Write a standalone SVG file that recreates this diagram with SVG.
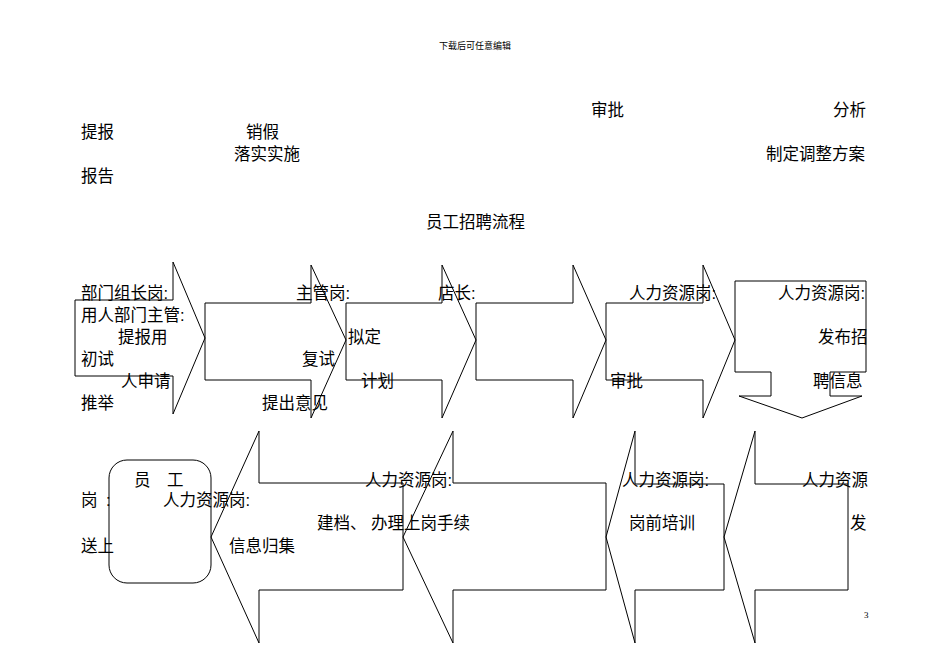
<svg xmlns="http://www.w3.org/2000/svg" width="950" height="672" viewBox="0 0 950 672">
<style>
.s{fill:none;stroke:#000;stroke-width:1}
text{font-family:"Liberation Sans","Noto Sans CJK SC",sans-serif;font-size:16.5px;fill:#000}
.sm{font-family:"Liberation Serif","Noto Sans CJK SC",serif;font-size:9px}
</style>
<rect width="950" height="672" fill="#fff"/>
<g id="connectors">
<polygon id="a1" class="s" points="75,300 173,300 173,262 205,338 173,414 173,376 75,376"/>
<polygon id="a2" class="s" points="205,303 311,303 311,265 346,340 311,418 311,380 205,380"/>
<polygon id="a3" class="s" points="346,303 442,303 442,265 476,340 442,418 442,380 346,380"/>
<polygon id="a4" class="s" points="476,303 573,303 573,265 606,340 573,418 573,380 476,380"/>
<polygon id="a5" class="s" points="606,303 703,303 703,265 735,340 703,418 703,380 606,380"/>
<polygon id="a6" class="s" points="735,281 866,281 866,372 830,372 830,396 862,396 802,418 739,396 771,396 771,372 735,372"/>
<polygon id="b1" class="s" points="403,483 259,483 259,431 211,537 259,643 259,590 403,590"/>
<polygon id="b2" class="s" points="606,483 453,483 453,431 403,537 453,643 453,590 606,590"/>
<polygon id="b3" class="s" points="724,484 635,484 635,431 606,537 635,643 635,590 724,590"/>
<polygon id="b4" class="s" points="848,484 755,484 755,431 724,537 755,643 755,590 848,590"/>
</g>
<g id="node-employee"><rect class="s" x="109" y="460" width="102" height="123" rx="18"/></g>
<g id="texts">
<text class="sm" x="475" y="49" text-anchor="middle">下载后可任意编辑</text>
<text x="591" y="116">审批</text>
<text x="833" y="116">分析</text>
<text x="81" y="138">提报</text>
<text x="246" y="138">销假</text>
<text x="234" y="160">落实实施</text>
<text x="766" y="160">制定调整方案</text>
<text x="81" y="182">报告</text>
<text x="426" y="228">员工招聘流程</text>
<text x="81" y="299">部门组长岗:</text>
<text x="296" y="299">主管岗:</text>
<text x="438" y="299">店长:</text>
<text x="629" y="299">人力资源岗:</text>
<text x="778" y="299">人力资源岗:</text>
<text x="81" y="321">用人部门主管:</text>
<text x="118" y="343">提报用</text>
<text x="348" y="343">拟定</text>
<text x="818" y="343">发布招</text>
<text x="81" y="365">初试</text>
<text x="302" y="365">复试</text>
<text x="121" y="387">人申请</text>
<text x="361" y="387">计划</text>
<text x="610" y="387">审批</text>
<text x="813" y="387">聘信息</text>
<text x="81" y="409">推举</text>
<text x="262" y="409">提出意见</text>
<text x="134" y="486">员</text>
<text x="167" y="486">工</text>
<text x="365" y="486">人力资源岗:</text>
<text x="622" y="486">人力资源岗:</text>
<text x="802" y="486">人力资源</text>
<text x="81" y="506">岗</text>
<text x="106" y="506">:</text>
<text x="163" y="506">人力资源岗:</text>
<text x="317" y="529">建档、 办理上岗手续</text>
<text x="629" y="529">岗前培训</text>
<text x="850" y="529">发</text>
<text x="81" y="552">送上</text>
<text x="229" y="552">信息归集</text>
<text class="sm" x="864" y="618">3</text>
</g>
</svg>
